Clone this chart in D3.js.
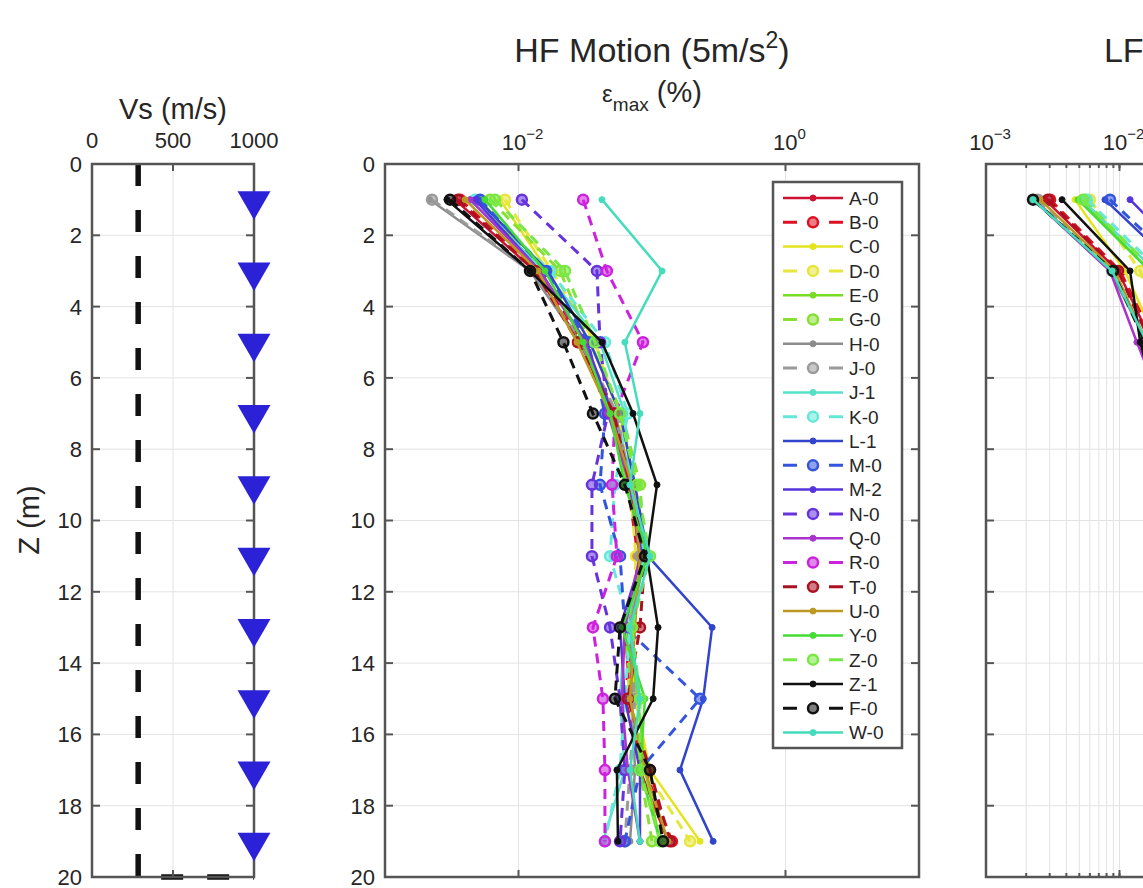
<!DOCTYPE html>
<html>
<head>
<meta charset="utf-8">
<script src="https://cdn.jsdelivr.net/npm/d3@7"></script>
<style>
body { margin: 0; background: #fff; }
text { font-family: "Liberation Sans", Arial, sans-serif; fill: #262626; }
</style>
</head>
<body>
<svg></svg>
<script>
// ---- data ----
var depths = [1, 3, 5, 7, 9, 11, 13, 15, 17, 19];
var depthTicks = [0, 2, 4, 6, 8, 10, 12, 14, 16, 18, 20];

var vsTicks = [0, 500, 1000];
var vsProfile = [285, 285, 1000];
var vsProfileZ = [0, 20, 20];
var sensorVs = [1000, 1000, 1000, 1000, 1000, 1000, 1000, 1000, 1000, 1000];

var hfTicks = [1e-2, 1];
var lfTicks = [1e-3, 1e-2, 1e-1, 1, 10];

var names = ['A-0', 'B-0', 'C-0', 'D-0', 'E-0', 'G-0', 'H-0', 'J-0', 'J-1', 'K-0', 'L-1', 'M-0',
             'M-2', 'N-0', 'Q-0', 'R-0', 'T-0', 'U-0', 'Y-0', 'Z-0', 'Z-1', 'F-0', 'W-0'];

// max strain (%) at depths 1..19 m, high frequency motion
var hfStrain = [
  [0.00334, 0.0133, 0.0289, 0.0502, 0.0684, 0.0813, 0.0626, 0.0684, 0.0813, 0.132],
  [0.00365, 0.0140, 0.0305, 0.0528, 0.0659, 0.0786, 0.0721, 0.0626, 0.0886, 0.141],
  [0.00727, 0.0166, 0.0343, 0.0576, 0.0746, 0.0813, 0.0684, 0.0746, 0.0966, 0.229],
  [0.00793, 0.0178, 0.0374, 0.0556, 0.0684, 0.0759, 0.0708, 0.0659, 0.0886, 0.193],
  [0.00515, 0.0145, 0.0315, 0.0485, 0.0659, 0.0842, 0.0659, 0.0786, 0.0886, 0.115],
  [0.00612, 0.0205, 0.0343, 0.0596, 0.0813, 0.0886, 0.0626, 0.0708, 0.0813, 0.100],
  [0.00217, 0.0122, 0.0289, 0.0528, 0.0708, 0.0886, 0.0684, 0.0708, 0.0746, 0.0684],
  [0.00225, 0.0126, 0.0299, 0.0546, 0.0684, 0.0813, 0.0659, 0.0746, 0.0684, 0.0626],
  [0.00434, 0.0158, 0.0408, 0.0626, 0.0684, 0.0886, 0.0626, 0.0576, 0.0626, 0.0429],
  [0.00473, 0.0172, 0.0444, 0.0659, 0.0528, 0.0485, 0.0684, 0.0626, 0.0576, 0.0444],
  [0.00497, 0.0166, 0.0343, 0.0576, 0.0746, 0.0933, 0.282, 0.242, 0.162, 0.287],
  [0.00515, 0.0161, 0.0332, 0.0444, 0.0408, 0.0576, 0.0626, 0.229, 0.0813, 0.0626],
  [0.00473, 0.0145, 0.0321, 0.0502, 0.0684, 0.0842, 0.0576, 0.0626, 0.0813, 0.0813],
  [0.0106, 0.0387, 0.0408, 0.0468, 0.0355, 0.0355, 0.0485, 0.0576, 0.0626, 0.0576],
  [0.00434, 0.0145, 0.0315, 0.0468, 0.0684, 0.0813, 0.0626, 0.0596, 0.0659, 0.0813],
  [0.0305, 0.0459, 0.0856, 0.0528, 0.0502, 0.0546, 0.0361, 0.0429, 0.0444, 0.0444],
  [0.00352, 0.0133, 0.0279, 0.0519, 0.0684, 0.0886, 0.0813, 0.0659, 0.0966, 0.136],
  [0.00398, 0.0140, 0.0274, 0.0485, 0.0708, 0.0813, 0.0746, 0.0684, 0.0886, 0.132],
  [0.00562, 0.0158, 0.0305, 0.0485, 0.0626, 0.0933, 0.0596, 0.0886, 0.0813, 0.115],
  [0.00667, 0.0223, 0.0374, 0.0576, 0.0772, 0.0966, 0.0708, 0.0813, 0.0813, 0.115],
  [0.00291, 0.0122, 0.0422, 0.0721, 0.109, 0.0917, 0.111, 0.102, 0.0546, 0.0556],
  [0.00307, 0.0122, 0.0217, 0.0361, 0.0626, 0.0886, 0.0576, 0.0528, 0.0966, 0.121],
  [0.0422, 0.119, 0.0626, 0.0813, 0.0684, 0.0966, 0.0684, 0.0813, 0.0684, 0.0813]
];

// max strain (%) for the low frequency motion (mostly beyond the visible area)
var lfStrain = [
  [0.00277, 0.00975, 0.0175, 0.026, 0.032, 0.038, 0.042, 0.046, 0.050, 0.055],
  [0.00302, 0.0101, 0.0185, 0.027, 0.034, 0.039, 0.044, 0.047, 0.052, 0.058],
  [0.00464, 0.0110, 0.0190, 0.028, 0.035, 0.040, 0.045, 0.049, 0.053, 0.060],
  [0.00601, 0.0143, 0.0220, 0.031, 0.038, 0.043, 0.047, 0.051, 0.055, 0.062],
  [0.00506, 0.0169, 0.0250, 0.033, 0.040, 0.045, 0.049, 0.053, 0.057, 0.064],
  [0.00552, 0.0169, 0.0260, 0.034, 0.041, 0.046, 0.050, 0.054, 0.058, 0.065],
  [0.00233, 0.00849, 0.0160, 0.025, 0.031, 0.036, 0.041, 0.045, 0.049, 0.054],
  [0.00245, 0.00879, 0.0165, 0.025, 0.031, 0.037, 0.041, 0.045, 0.049, 0.054],
  [0.00524, 0.0185, 0.0280, 0.036, 0.043, 0.048, 0.052, 0.056, 0.060, 0.066],
  [0.00571, 0.0201, 0.0300, 0.038, 0.045, 0.050, 0.054, 0.058, 0.062, 0.068],
  [0.00778, 0.0284, 0.042, 0.052, 0.060, 0.066, 0.071, 0.075, 0.079, 0.085],
  [0.00849, 0.0310, 0.045, 0.055, 0.063, 0.069, 0.074, 0.078, 0.082, 0.088],
  [0.0120, 0.0401, 0.055, 0.065, 0.073, 0.079, 0.084, 0.088, 0.092, 0.098],
  [0.0169, 0.0566, 0.075, 0.088, 0.097, 0.104, 0.110, 0.115, 0.120, 0.125],
  [0.00225, 0.00849, 0.0135, 0.022, 0.029, 0.035, 0.040, 0.044, 0.048, 0.053],
  [0.0201, 0.0673, 0.088, 0.100, 0.110, 0.118, 0.124, 0.130, 0.135, 0.140],
  [0.00291, 0.00975, 0.0170, 0.026, 0.033, 0.038, 0.043, 0.047, 0.051, 0.056],
  [0.00254, 0.00925, 0.0160, 0.025, 0.032, 0.037, 0.042, 0.046, 0.050, 0.055],
  [0.00489, 0.0169, 0.0255, 0.033, 0.040, 0.045, 0.049, 0.053, 0.057, 0.063],
  [0.00533, 0.0185, 0.0270, 0.035, 0.042, 0.047, 0.051, 0.055, 0.059, 0.065],
  [0.00371, 0.0120, 0.0143, 0.020, 0.027, 0.033, 0.038, 0.042, 0.046, 0.051],
  [0.00225, 0.00894, 0.0155, 0.024, 0.030, 0.036, 0.040, 0.044, 0.048, 0.053],
  [0.00225, 0.00879, 0.0160, 0.025, 0.031, 0.036, 0.041, 0.045, 0.049, 0.054]
];

// line styles per series (legend order)
var colors = ['#cc1133', '#dd1122', '#e4e41c', '#e6e63c', '#77dd22', '#88e033', '#8c8c8c', '#9a9a9a',
              '#55e0c8', '#66e8d8', '#3344cc', '#3355dd', '#5533dd', '#6633dd', '#aa33cc', '#cc22dd',
              '#aa1122', '#bb9922', '#44dd33', '#77e844', '#111111', '#111111', '#44ddbb'];
var dashed = [false, true, false, true, false, true, false, true, false, true, false, true,
              false, true, false, true, true, false, false, true, false, true, false];

// ---- layout ----
var svg = d3.select('svg').attr('width', 1143).attr('height', 888);
var yTop = 164, yBot = 877;
var z = d3.scaleLinear().domain([0, 20]).range([yTop, yBot]);
var xVs = d3.scaleLinear().domain([0, 1000]).range([92, 254]);
var xHF = d3.scaleLog().domain([1e-3, 10]).range([385, 919]);
var xLF = d3.scaleLog().domain([1e-3, 10]).range([986, 1520]);

var gridColor = '#e3e3e3', boxColor = '#555';

function hGrid(g, x0, x1) {
  g.selectAll('line.hg').data(depthTicks.slice(1, -1)).enter().append('line')
    .attr('x1', x0).attr('x2', x1)
    .attr('y1', function (d) { return z(d); }).attr('y2', function (d) { return z(d); })
    .attr('stroke', gridColor).attr('stroke-width', 1);
}
function vGrid(g, xs, vals) {
  g.selectAll('line.vg').data(vals).enter().append('line')
    .attr('x1', function (d) { return xs(d); }).attr('x2', function (d) { return xs(d); })
    .attr('y1', yTop).attr('y2', yBot)
    .attr('stroke', gridColor).attr('stroke-width', 1);
}
function box(g, x0, x1) {
  g.append('rect').attr('x', x0).attr('y', yTop).attr('width', x1 - x0).attr('height', yBot - yTop)
    .attr('fill', 'none').attr('stroke', boxColor).attr('stroke-width', 2.5);
}
function yTicks(g, x0, x1, labels) {
  depthTicks.forEach(function (d) {
    g.append('line').attr('x1', x0).attr('x2', x0 + 8).attr('y1', z(d)).attr('y2', z(d))
      .attr('stroke', boxColor).attr('stroke-width', 2);
    g.append('line').attr('x1', x1 - 8).attr('x2', x1).attr('y1', z(d)).attr('y2', z(d))
      .attr('stroke', boxColor).attr('stroke-width', 2);
    if (labels) {
      g.append('text').attr('x', x0 - 10).attr('y', z(d)).attr('dy', '0.36em')
        .attr('text-anchor', 'end').style('font-size', '22px').text(d);
    }
  });
}
function xTicks(g, xs, vals, len) {
  vals.forEach(function (v) {
    g.append('line').attr('x1', xs(v)).attr('x2', xs(v)).attr('y1', yTop).attr('y2', yTop + len)
      .attr('stroke', boxColor).attr('stroke-width', 2);
    g.append('line').attr('x1', xs(v)).attr('x2', xs(v)).attr('y1', yBot - len).attr('y2', yBot)
      .attr('stroke', boxColor).attr('stroke-width', 2);
  });
}
function powLabel(g, x, v) {
  var e = Math.round(Math.log10(v));
  var t = g.append('text').attr('x', x + 4).attr('y', 150).attr('text-anchor', 'middle')
    .style('font-size', '22px');
  t.append('tspan').text('10');
  t.append('tspan').attr('dy', -11).style('font-size', '15px').text(e < 0 ? '\u2212' + (-e) : String(e));
}
function title(x, txt, sup, tail) {
  var t = svg.append('text').attr('x', x).attr('y', 62).attr('text-anchor', 'middle')
    .style('font-size', '34px');
  t.append('tspan').text(txt);
  t.append('tspan').attr('dy', -14).style('font-size', '23px').text(sup);
  t.append('tspan').attr('dy', 14).text(tail);
}

// ---- panel 1 : Vs profile ----
var p1 = svg.append('g');
hGrid(p1, 92, 254);
vGrid(p1, xVs, [500]);

var profile = vsProfile.map(function (v, i) { return [v, vsProfileZ[i]]; });
p1.append('path').datum(profile)
  .attr('d', d3.line().x(function (d) { return xVs(d[0]); }).y(function (d) { return z(d[1]); }))
  .attr('fill', 'none').attr('stroke', '#111').attr('stroke-width', 5.5)
  .attr('stroke-dasharray', '22,24');

var sensors = depths.map(function (d, i) { return [sensorVs[i], d]; });
p1.append('path').datum(sensors)
  .attr('d', d3.line().x(function (d) { return xVs(d[0]); }).y(function (d) { return z(d[1]); }))
  .attr('fill', 'none').attr('stroke', '#2a2ad0').attr('stroke-width', 2);

box(p1, 92, 254);
yTicks(p1, 92, 254, true);
xTicks(p1, xVs, vsTicks, 7);

p1.selectAll('path.tri').data(sensors).enter().append('path')
  .attr('d', d3.symbol().type(d3.symbolTriangle).size(470))
  .attr('transform', function (d) { return 'translate(' + xVs(d[0]) + ',' + (z(d[1]) + 1) + ') rotate(180)'; })
  .attr('fill', '#2b22d8');

vsTicks.forEach(function (v) {
  p1.append('text').attr('x', xVs(v)).attr('y', 148).attr('text-anchor', 'middle')
    .style('font-size', '22px').text(v);
});
p1.append('text').attr('x', 173).attr('y', 119).attr('text-anchor', 'middle')
  .style('font-size', '29px').text('Vs (m/s)');
p1.append('text').attr('transform', 'translate(39,520) rotate(-90)').attr('text-anchor', 'middle')
  .style('font-size', '29px').text('Z (m)');

// ---- strain panels ----
function strainSeries(g, xs, data) {
  data.forEach(function (vals, s) {
    var pts = vals.map(function (v, i) { return [v, depths[i]]; });
    var line = d3.line().x(function (d) { return xs(d[0]); }).y(function (d) { return z(d[1]); });
    g.append('path').datum(pts).attr('d', line)
      .attr('fill', 'none').attr('stroke', colors[s])
      .attr('stroke-width', dashed[s] ? 3 : 2.5)
      .attr('stroke-dasharray', dashed[s] ? '10,7' : null);
    g.selectAll('m' + s).data(pts).enter().append('circle')
      .attr('cx', function (d) { return xs(d[0]); })
      .attr('cy', function (d) { return z(d[1]); })
      .attr('r', dashed[s] ? 5 : 3)
      .attr('fill', colors[s]).attr('fill-opacity', dashed[s] ? 0.55 : 1)
      .attr('stroke', colors[s]).attr('stroke-width', dashed[s] ? 2.5 : 1);
  });
}

// panel 2 : HF motion
var p2 = svg.append('g');
hGrid(p2, 385, 919);
vGrid(p2, xHF, hfTicks);
strainSeries(p2, xHF, hfStrain);
box(p2, 385, 919);
yTicks(p2, 385, 919, true);
xTicks(p2, xHF, hfTicks, 7);
hfTicks.forEach(function (v) { powLabel(p2, xHF(v), v); });

var xl = p2.append('text').attr('x', 652).attr('y', 102).attr('text-anchor', 'middle');
xl.append('tspan').style('font-size', '24px').text('\u03b5');
xl.append('tspan').attr('dy', 9).style('font-size', '19px').text('max');
xl.append('tspan').attr('dy', -9).style('font-size', '29px').text(' (%)');
title(652, 'HF Motion (5m/s', '2', ')');

// legend
var lg = p2.append('g').attr('transform', 'translate(773,182)');
lg.append('rect').attr('width', 129).attr('height', 566)
  .attr('fill', '#fff').attr('stroke', boxColor).attr('stroke-width', 2.5);
names.forEach(function (n, s) {
  var y = 16 + s * 24.3;
  lg.append('line').attr('x1', 10).attr('x2', 70).attr('y1', y).attr('y2', y)
    .attr('stroke', colors[s]).attr('stroke-width', dashed[s] ? 3 : 2.5)
    .attr('stroke-dasharray', dashed[s] ? '14,32' : null);
  lg.append('circle').attr('cx', 40).attr('cy', y).attr('r', dashed[s] ? 5 : 3)
    .attr('fill', colors[s]).attr('fill-opacity', dashed[s] ? 0.55 : 1)
    .attr('stroke', colors[s]).attr('stroke-width', dashed[s] ? 2.5 : 1);
  lg.append('text').attr('x', 76).attr('y', y).attr('dy', '0.36em')
    .style('font-size', '19px').text(n);
});

// panel 3 : LF motion (cut at the right edge)
var p3 = svg.append('g');
var minor = [];
for (var e = -3; e < 1; e++) {
  for (var k = 1; k < 10; k++) minor.push(k * Math.pow(10, e));
}
hGrid(p3, 986, 1520);
vGrid(p3, xLF, minor);
svg.append('clipPath').attr('id', 'lfclip').append('rect')
  .attr('x', 986).attr('y', yTop).attr('width', 534).attr('height', yBot - yTop);
strainSeries(p3.append('g').attr('clip-path', 'url(#lfclip)'), xLF, lfStrain);
box(p3, 986, 1520);
yTicks(p3, 986, 1520, false);
xTicks(p3, xLF, minor, 4);
xTicks(p3, xLF, lfTicks, 7);
lfTicks.forEach(function (v) { powLabel(p3, xLF(v), v); });
title(1253, 'LF Motion (0.5m/s', '2', ')');
</script>
</body>
</html>
